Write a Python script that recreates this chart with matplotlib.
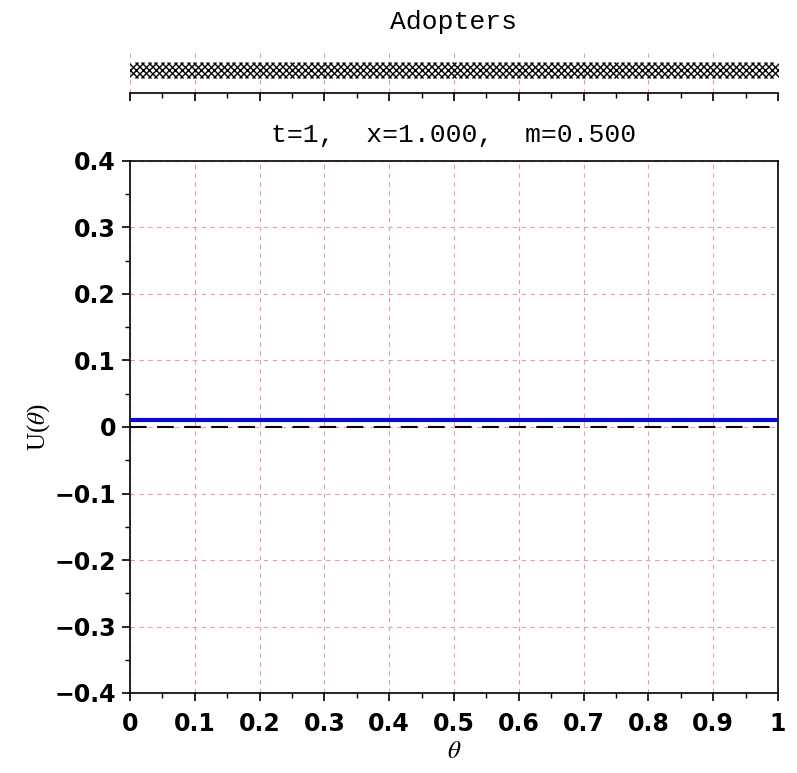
"""
Adopters strip + U(theta) panel, t=1.
"""
import matplotlib
matplotlib.use('Agg')
import matplotlib.pyplot as plt
from matplotlib.ticker import MultipleLocator, FuncFormatter

# data
adopters = [
    0.00, 0.01, 0.02, 0.03, 0.04, 0.05, 0.06, 0.07, 0.08, 0.09,
    0.10, 0.11, 0.12, 0.13, 0.14, 0.15, 0.16, 0.17, 0.18, 0.19,
    0.20, 0.21, 0.22, 0.23, 0.24, 0.25, 0.26, 0.27, 0.28, 0.29,
    0.30, 0.31, 0.32, 0.33, 0.34, 0.35, 0.36, 0.37, 0.38, 0.39,
    0.40, 0.41, 0.42, 0.43, 0.44, 0.45, 0.46, 0.47, 0.48, 0.49,
    0.50, 0.51, 0.52, 0.53, 0.54, 0.55, 0.56, 0.57, 0.58, 0.59,
    0.60, 0.61, 0.62, 0.63, 0.64, 0.65, 0.66, 0.67, 0.68, 0.69,
    0.70, 0.71, 0.72, 0.73, 0.74, 0.75, 0.76, 0.77, 0.78, 0.79,
    0.80, 0.81, 0.82, 0.83, 0.84, 0.85, 0.86, 0.87, 0.88, 0.89,
    0.90, 0.91, 0.92, 0.93, 0.94, 0.95, 0.96, 0.97, 0.98, 0.99,
    1.00,
]
theta = [0.0, 1.0]
utility = [0.01, 0.01]
zero_line = [0.0, 0.0]

GRID = '#f09aa5'
MONO = 'Liberation Mono'
SERIF = 'Liberation Serif'
plt.rcParams['mathtext.fontset'] = 'stix'

fig = plt.figure(figsize=(7.97, 7.73), dpi=100, facecolor='white')

# ---- top strip: adopters ----
ax_top = fig.add_axes([130 / 797, 680 / 773, 648 / 797, 43 / 773])
ax_top.plot(adopters, [0] * len(adopters), linestyle='none', marker='x',
            markersize=12, markeredgewidth=1.0, color='black', zorder=3)
ax_top.set_xlim(0, 1)
ax_top.set_ylim(-1.2, 1)
for s in ('top', 'left', 'right'):
    ax_top.spines[s].set_visible(False)
ax_top.spines['bottom'].set_linewidth(1.2)
ax_top.set_yticks([])
ax_top.xaxis.set_major_locator(MultipleLocator(0.1))
ax_top.xaxis.set_minor_locator(MultipleLocator(0.05))
ax_top.tick_params(axis='x', which='major', direction='out', length=6,
                   width=1.2, labelbottom=False)
ax_top.tick_params(axis='x', which='minor', direction='out', length=3.5,
                   width=1.0)
ax_top.grid(True, axis='x', which='major', color=GRID, linestyle='--',
            linewidth=0.8, dashes=(4, 4))
ax_top.set_axisbelow(True)
fig.text((130 + 324) / 797, 1 - 22 / 773, 'Adopters',
         ha='center', va='center', fontsize=19, family=MONO)

# ---- main panel ----
ax = fig.add_axes([130 / 797, 80 / 773, 648 / 797, 532 / 773])
ax.plot(theta, zero_line, color='black', linewidth=1.5, dashes=(8, 5),
        zorder=3)
ax.plot(theta, utility, color='#0a0ad0', linewidth=3, zorder=4)
ax.set_xlim(0, 1)
ax.set_ylim(-0.4, 0.4)
ax.xaxis.set_major_locator(MultipleLocator(0.1))
ax.xaxis.set_minor_locator(MultipleLocator(0.05))
ax.yaxis.set_major_locator(MultipleLocator(0.1))
ax.yaxis.set_minor_locator(MultipleLocator(0.05))
fmt = FuncFormatter(lambda v, p: ('%g' % round(v, 2)).replace('-', '\u2212'))
ax.xaxis.set_major_formatter(fmt)
ax.yaxis.set_major_formatter(fmt)
ax.tick_params(which='major', direction='out', length=6, width=1.2,
               labelsize=17, pad=4)
ax.tick_params(axis='x', which='major', pad=8)
ax.tick_params(which='minor', direction='out', length=3.5, width=1.0)
for lbl in ax.get_xticklabels() + ax.get_yticklabels():
    lbl.set_fontweight('bold')
for s in ax.spines.values():
    s.set_linewidth(1.2)
ax.grid(True, which='major', color=GRID, linestyle='--', linewidth=0.8,
        dashes=(4, 4))
ax.set_axisbelow(True)

ax.set_title('t=1,  x=1.000,  m=0.500', fontsize=19, family=MONO, pad=14)
ax.set_ylabel(r'U($\theta$)', fontsize=18, family=SERIF, labelpad=2)
ax.set_xlabel(r'$\theta$', fontsize=18, labelpad=2)

fig.savefig('out.png', dpi=100, facecolor='white')
